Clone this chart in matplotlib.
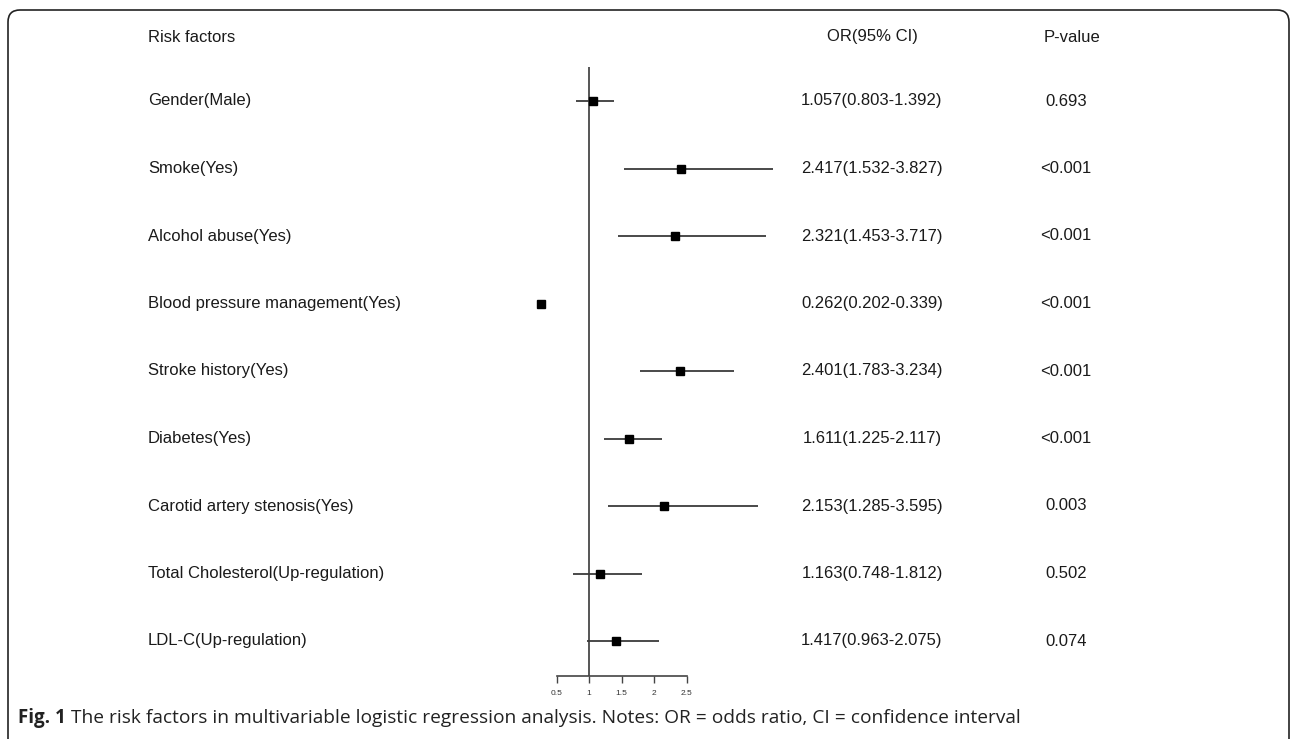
import numpy as np
import matplotlib
matplotlib.use("Agg")
import matplotlib.pyplot as plt
import matplotlib.transforms as mtransforms
from matplotlib.patches import FancyBboxPatch

# data
factors = ["Gender(Male)", "Smoke(Yes)", "Alcohol abuse(Yes)",
           "Blood pressure management(Yes)", "Stroke history(Yes)",
           "Diabetes(Yes)", "Carotid artery stenosis(Yes)",
           "Total Cholesterol(Up-regulation)", "LDL-C(Up-regulation)"]
odds = [1.057, 2.417, 2.321, 0.262, 2.401, 1.611, 2.153, 1.163, 1.417]
ci_low = [0.803, 1.532, 1.453, 0.202, 1.783, 1.225, 1.285, 0.748, 0.963]
ci_high = [1.392, 3.827, 3.717, 0.339, 3.234, 2.117, 3.595, 1.812, 2.075]
p_values = ["0.693", "<0.001", "<0.001", "<0.001", "<0.001", "<0.001",
            "0.003", "0.502", "0.074"]
x_ticks = [0.5, 1, 1.5, 2, 2.5]
x_tick_labels = ["0.5", "1", "1.5", "2", "2.5"]

W, H = 1292, 739
fig = plt.figure(figsize=(W / 100, H / 100), dpi=100)

# pixel layout of the plot panel
px_left, px_right = 520, 800
px_top, px_bottom = 67, 676
px_one, px_unit = 589, 65.0
row0, row_step = 101, 67.5

ax = fig.add_axes([px_left / W, 1 - px_bottom / H,
                   (px_right - px_left) / W, (px_bottom - px_top) / H])
ax.set_xlim(1 - (px_one - px_left) / px_unit, 1 + (px_right - px_one) / px_unit)
ax.set_ylim((px_bottom - row0) / row_step, (px_top - row0) / row_step)

rows = np.arange(len(factors))
ax.axvline(1, color="#555555", lw=1.4)
ax.hlines(rows, ci_low, ci_high, color="#3a3a3a", lw=1.3)
ax.plot(odds, rows, "s", color="black", markersize=6, linestyle="none")

for s in ["top", "right", "left"]:
    ax.spines[s].set_visible(False)
ax.spines["bottom"].set_bounds(0.5, 2.5)
ax.spines["bottom"].set_color("#444444")
ax.spines["bottom"].set_linewidth(1.2)
ax.set_yticks([])
ax.set_xticks(x_ticks)
ax.set_xticklabels(x_tick_labels, fontsize=6, color="#333333",
                   family="Liberation Sans")
ax.tick_params(axis="x", length=5, width=1.0, color="#444444", pad=5)

# text columns
trans = mtransforms.blended_transform_factory(fig.transFigure, ax.transData)
fnt = dict(family="Liberation Sans", fontsize=12, color="#1a1a1a")
head_y = (37 - row0) / row_step
ax.text(148 / W, head_y, "Risk factors", transform=trans, va="center",
        ha="left", clip_on=False, **fnt)
ax.text(872 / W, head_y, "OR(95% CI)", transform=trans, va="center",
        ha="center", clip_on=False, **fnt)
ax.text(1072 / W, head_y, "P-value", transform=trans, va="center",
        ha="center", clip_on=False, **fnt)

for i in rows:
    ax.text(148 / W, i, factors[i], transform=trans, va="center", ha="left",
            clip_on=False, **fnt)
    ax.text(872 / W, i, "%.3f(%.3f-%.3f)" % (odds[i], ci_low[i], ci_high[i]),
            transform=trans, va="center", ha="center", clip_on=False, **fnt)
    ax.text(1066 / W, i, p_values[i], transform=trans, va="center",
            ha="center", clip_on=False, **fnt)

# frame with rounded top corners, open at the bottom
frame = FancyBboxPatch((0.08, -1.0), 12.81, 7.29 + 1.0,
                       boxstyle="round,pad=0,rounding_size=0.12",
                       transform=fig.dpi_scale_trans, fill=False,
                       edgecolor="#222222", linewidth=1.2, clip_on=False)
fig.add_artist(frame)

# caption
cap = fig.text(18 / W, 1 - 718 / H, "Fig. 1", fontsize=13.5, weight="bold",
               family="Open Sans", va="center", ha="left", color="#222222")
ax.annotate("The risk factors in multivariable logistic regression analysis. "
            "Notes: OR = odds ratio, CI = confidence interval",
            xy=(1, 0.5), xycoords=cap, xytext=(4, 0),
            textcoords="offset points", va="center", ha="left",
            fontsize=13.8, family="Open Sans", color="#222222",
            annotation_clip=False)

fig.savefig("out.png", dpi=100)
